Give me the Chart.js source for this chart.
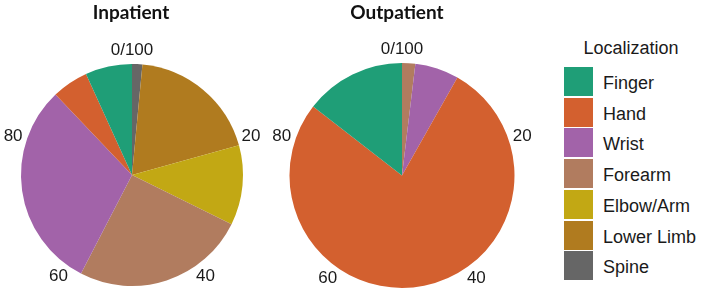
<!DOCTYPE html>
<html>
<head>
<meta charset="utf-8">
<script src="https://cdn.jsdelivr.net/npm/chart.js@4"></script>
<style>
    html, body { margin: 0; padding: 0; background: #fff; }
    #wrap { position: relative; width: 704px; height: 295px; overflow: hidden; }
    canvas { position: absolute; top: 0; }
    #legend { position: absolute; left: 540px; top: 0; width: 164px; height: 295px; font-family: "Liberation Sans", Arial, sans-serif; color: #1a1a1a; }
    #legend .title { position: absolute; left: 0; width: 182px; top: 38px; text-align: center; font-size: 18px; }
    #legend .item { position: absolute; left: 24px; height: 30px; }
    #legend .sw { position: absolute; left: 0; top: 0; width: 29px; height: 29px; }
    #legend .lbl { position: absolute; left: 39px; top: 6px; font-size: 18px; white-space: nowrap; }
</style>
</head>
<body>
<div id="wrap">
    <canvas id="inChart" width="270" height="295" style="left:0"></canvas>
    <canvas id="outChart" width="270" height="295" style="left:270px"></canvas>
    <div id="legend"></div>
</div>
<script>
    const categories = ['Finger', 'Hand', 'Wrist', 'Forearm', 'Elbow/Arm', 'Lower Limb', 'Spine'];
    const colors = ['#1f9e77', '#d3602f', '#a263a9', '#b17c5f', '#c2a814', '#b07b1f', '#666666'];
    // percent per localization, same order as categories
    const inpatient = [6.8, 5.3, 30.3, 25.3, 11.6, 19.2, 1.5];
    const outpatient = [14.5, 77.3, 6.3, 1.9, 0, 0, 0];
    const tickValues = [0, 20, 40, 60, 80];
    const tickLabels = ['0/100', '20', '40', '60', '80'];
    const panelTitles = ['Inpatient', 'Outpatient'];

    // ggplot stacks from the last level, so draw clockwise in reverse order
    const rev = arr => arr.slice().reverse();

    const ringLabels = {
        id: 'ringLabels',
        afterDraw(chart, args, opts) {
            const arc = chart.getDatasetMeta(0).data[0];
            if (!arc) return;
            const ctx = chart.ctx;
            const cx = arc.x, cy = arc.y, r = arc.outerRadius + 14;
            ctx.save();
            ctx.fillStyle = '#1a1a1a';
            ctx.font = '17px "Liberation Sans", Arial, sans-serif';
            ctx.textAlign = 'center';
            ctx.textBaseline = 'middle';
            tickValues.forEach((v, i) => {
                const a = -Math.PI / 2 + v / 100 * Math.PI * 2;
                ctx.fillText(tickLabels[i], cx + r * Math.cos(a), cy + r * Math.sin(a));
            });
            ctx.font = 'bold 19px Lato, "Liberation Sans", sans-serif';
            ctx.fillStyle = '#111';
            ctx.fillText(opts.text, opts.x, 13);
            ctx.restore();
        }
    };

    function makePie(id, values, title, titleX, pad) {
        return new Chart(document.getElementById(id), {
            type: 'pie',
            data: {
                labels: rev(categories),
                datasets: [{
                    data: rev(values),
                    backgroundColor: rev(colors),
                    borderWidth: 0
                }]
            },
            options: {
                responsive: false,
                animation: false,
                layout: {padding: pad},
                plugins: {
                    legend: {display: false},
                    tooltip: {enabled: false},
                    ringLabels: {text: title, x: titleX}
                }
            },
            plugins: [ringLabels]
        });
    }

    makePie('inChart', inpatient, panelTitles[0], 131, {left: 21, right: 27, top: 64, bottom: 9});
    makePie('outChart', outpatient, panelTitles[1], 127, {left: 19, right: 25, top: 63, bottom: 7});

    const legend = document.getElementById('legend');
    legend.innerHTML = '<div class="title">Localization</div>';
    categories.forEach((c, i) => {
        const item = document.createElement('div');
        item.className = 'item';
        item.style.top = (67 + i * 30.7) + 'px';
        item.innerHTML = `<div class="sw" style="background:${colors[i]}"></div><div class="lbl">${c}</div>`;
        legend.appendChild(item);
    });
</script>
</body>
</html>
